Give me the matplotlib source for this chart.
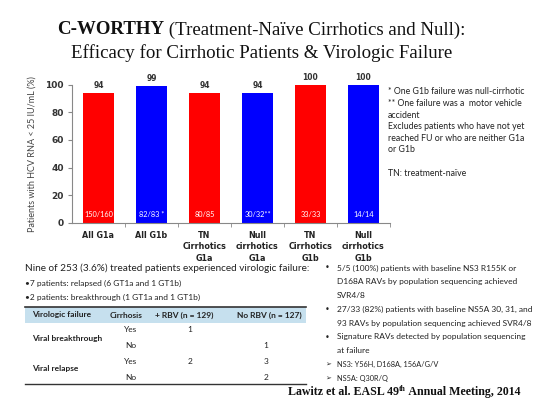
from matplotlib import pyplot as plt
from matplotlib.patches import Rectangle
from matplotlib.lines import Line2D

categories = ['All G1a', 'All G1b', 'TN\nCirrhotics\nG1a', 'Null\ncirrhotics\nG1a',
              'TN\nCirrhotics\nG1b', 'Null\ncirrhotics\nG1b']
values = [94, 99, 94, 94, 100, 100]
counts = ['150/160', '82/83 *', '80/85', '30/32**', '33/33', '14/14']
bar_colors = ['#ff0000', '#0000ff', '#ff0000', '#0000ff', '#ff0000', '#0000ff']
yticks = [0, 20, 40, 60, 80, 100]

notes = ['* One G1b failure was null-cirrhotic',
         '** One failure was a  motor vehicle',
         'accident',
         'Excludes patients who have not yet',
         'reached FU or who are neither G1a',
         'or G1b',
         '',
         'TN: treatment-naïve']

table_header = ['Virologic failure', 'Cirrhosis', '+ RBV (n = 129)', 'No RBV (n = 127)']
table_groups = ['Viral breakthrough', 'Viral relapse']
table_cirrhosis = ['Yes', 'No', 'Yes', 'No']
table_rbv = ['1', '', '2', '']
table_norbv = ['', '1', '3', '2']

bullets = [('•', '5/5 (100%) patients with baseline NS3 R155K or'),
           ('', 'D168A RAVs by population sequencing achieved'),
           ('', 'SVR4/8'),
           ('•', '27/33 (82%) patients with baseline NS5A 30, 31, and'),
           ('', '93 RAVs by population sequencing achieved SVR4/8'),
           ('•', 'Signature RAVs detected by population sequencing'),
           ('', 'at failure'),
           ('➢', 'NS3: Y56H, D168A, 156A/G/V'),
           ('➢', 'NS5A: Q30R/Q')]

W, H = 550, 413
fig = plt.figure(figsize=(5.5, 4.13), dpi=100)
fig.patch.set_facecolor('white')


def fx(px):
    return px / W


def fy(py):
    return 1 - py / H


body = ['Lato', 'DejaVu Sans']
serif = 'Liberation Serif'

# title
t1 = fig.text(fx(57), fy(30), 'C-WORTHY', fontfamily=serif, fontsize=13.6,
              fontweight='bold', va='center', color='#111111')
fig.canvas.draw()
bb = t1.get_window_extent()
fig.text(bb.x1 / W, fy(30), ' (Treatment-Naïve Cirrhotics and Null):', fontfamily=serif,
         fontsize=13.6, va='center', color='#111111')
fig.text(fx(262), fy(53), 'Efficacy for Cirrhotic Patients & Virologic Failure',
         fontfamily=serif, fontsize=13.6, ha='center', va='center', color='#111111')

# bar chart
ax = fig.add_axes([fx(72), fy(223), fx(390 - 72), (223 - 84.5) / H])
x = range(len(categories))
ax.bar(x, values, width=0.6, color=bar_colors, zorder=2)
ax.set_xlim(-0.5, len(categories) - 0.5)
ax.set_ylim(0, 100)
ax.set_yticks(yticks)
ax.set_yticklabels([str(v) for v in yticks], fontweight='bold', fontsize=6.5,
                   color='#333333')
ax.set_xticks(list(x))
ax.set_xticklabels(categories, fontweight='bold', fontsize=5.8, color='#222222',
                   linespacing=1.3)
ax.tick_params(axis='x', length=0, pad=6)
ax.set_xticks([i + 0.5 for i in range(len(categories))], minor=True)
ax.tick_params(axis='x', which='minor', length=3, color='#888888', direction='out')
ax.tick_params(axis='y', length=3, color='#888888', direction='out', pad=3)
for s in ['top', 'right']:
    ax.spines[s].set_visible(False)
for s in ['left', 'bottom']:
    ax.spines[s].set_color('#888888')
    ax.spines[s].set_linewidth(0.8)
ax.set_ylabel('Patients with HCV RNA < 25 IU/mL (%)', fontfamily=body, fontsize=6.5,
              color='#444444', labelpad=6)
for i, (v, c) in enumerate(zip(values, counts)):
    ax.text(i, v + 2, str(v), ha='center', va='bottom', fontsize=5.5,
            fontweight='bold', color='#333333')
    ax.text(i, 6, c, ha='center', va='center', fontsize=5.3, color='white',
            fontfamily=body)

# notes at right
for k, line in enumerate(notes):
    fig.text(fx(388), fy(92 + k * 11.6), line, fontfamily=body, fontsize=6.3,
             color='#222222', va='center')

# failure summary
fig.text(fx(25), fy(268), 'Nine of 253 (3.6%) treated patients experienced virologic failure:',
         fontfamily=body, fontsize=7.2, color='#222222', va='center')
fig.text(fx(25), fy(283), '•7 patients: relapsed (6 GT1a and 1 GT1b)',
         fontfamily=body, fontsize=6, color='#222222', va='center')
fig.text(fx(25), fy(297), '•2 patients: breakthrough (1 GT1a and 1 GT1b)',
         fontfamily=body, fontsize=6, color='#222222', va='center')

# table
tl, tr = 25, 306
fig.patches.append(Rectangle((fx(tl), fy(323)), fx(tr - tl), (323 - 307) / H,
                             transform=fig.transFigure, facecolor='#c6e0ee',
                             edgecolor='none'))
fig.lines.append(Line2D([fx(tl), fx(tr)], [fy(307), fy(307)], transform=fig.transFigure,
                        color='#333333', lw=1.2))
fig.lines.append(Line2D([fx(tl), fx(tr)], [fy(384), fy(384)], transform=fig.transFigure,
                        color='#333333', lw=1.0))
header_x = [32, 110, 155, 237]
for hx, h in zip(header_x, table_header):
    fig.text(fx(hx), fy(315), h, fontfamily=body, fontsize=6, fontweight='bold',
             color='#222222', va='center')
row_y = [330, 345, 361, 377]
for g, gy in zip(table_groups, [338, 369]):
    fig.text(fx(32), fy(gy), g, fontfamily=body, fontsize=6, fontweight='bold',
             color='#222222', va='center')
for ry, c, a, b in zip(row_y, table_cirrhosis, table_rbv, table_norbv):
    fig.text(fx(131), fy(ry), c, fontfamily=body, fontsize=6, color='#222222',
             ha='center', va='center')
    fig.text(fx(190), fy(ry), a, fontfamily=body, fontsize=6, color='#222222',
             ha='center', va='center')
    fig.text(fx(266), fy(ry), b, fontfamily=body, fontsize=6, color='#222222',
             ha='center', va='center')

# bullets at right
for k, (b, line) in enumerate(bullets):
    yy = 268 + k * 13.8
    if b:
        fig.text(fx(325), fy(yy), b, fontfamily=['DejaVu Sans'],
                 fontsize=6 if b == '•' else 5, color='#222222', va='center')
    fig.text(fx(337), fy(yy), line, fontfamily=body,
             fontsize=6 if b != '➢' else 5.3, color='#222222', va='center')

# citation
cs = 8.6
cite = fig.text(fx(288), fy(392), 'Lawitz et al. EASL 49', fontfamily=serif, fontsize=cs,
                fontweight='bold', color='#111111', va='center')
fig.canvas.draw()
cb = cite.get_window_extent()
sup = fig.text(cb.x1 / W, fy(389), 'th', fontfamily=serif, fontsize=5.5,
               fontweight='bold', color='#111111', va='center')
fig.canvas.draw()
sb = sup.get_window_extent()
fig.text(sb.x1 / W, fy(392), ' Annual Meeting, 2014', fontfamily=serif, fontsize=cs,
         fontweight='bold', color='#111111', va='center')

fig.savefig('out.png', dpi=100)
